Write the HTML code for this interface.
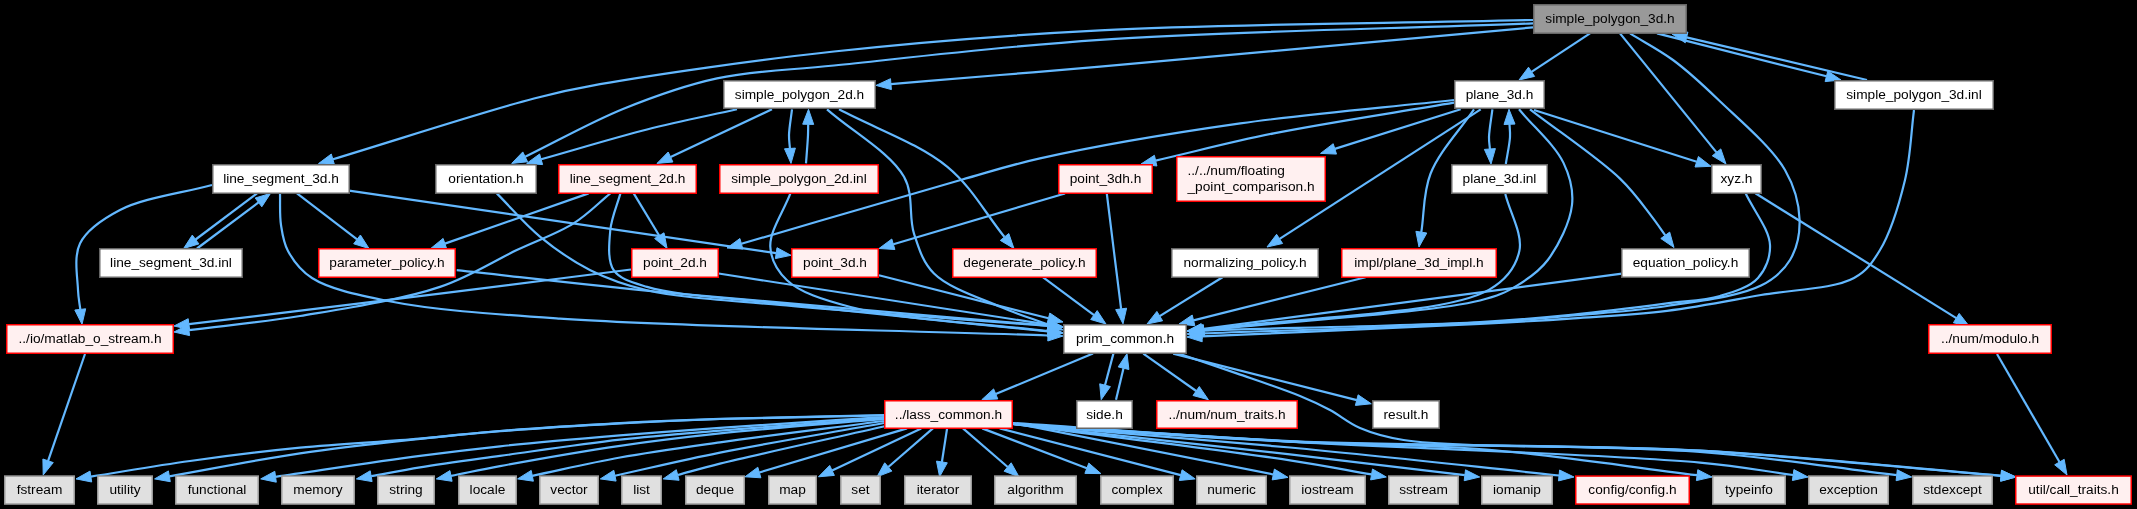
<!DOCTYPE html><html><head><meta charset="utf-8"><style>html,body{margin:0;padding:0;background:#000;width:2137px;height:509px;overflow:hidden}svg{display:block;will-change:transform}text{font-family:"Liberation Sans",sans-serif;font-size:13.7px;fill:#000}</style></head><body>
<svg width="2137" height="509" viewBox="0 0 2137 509">
<g fill="none" stroke="#63b8ff" stroke-width="2.2">
<path d="M1533.0,20.0C1388.7,23.5 1226.8,23.9 1100.0,30.4C1000.5,35.5 919.7,42.1 834.0,51.5C753.4,60.3 654.0,74.6 600.0,84.2C571.1,89.3 561.8,91.3 534.0,98.5C485.0,111.2 399.9,139.0 332.9,159.3"/>
<path d="M1533.0,23.4C1388.7,28.9 1226.7,31.3 1100.0,39.8C1000.5,46.5 904.7,58.2 834.0,65.5C787.1,70.4 753.5,70.5 717.0,78.4C683.6,85.6 654.2,96.4 623.0,109.0C590.3,122.3 557.8,140.9 525.2,156.8"/>
<path d="M1533.0,27.4C1388.7,40.5 1193.7,58.6 1100.0,66.7C1055.0,70.6 1034.1,72.2 1000.0,75.0C964.4,78.0 927.3,81.1 890.9,84.1"/>
<path d="M1590.0,33.4L1531.5,71.8"/>
<path d="M1620.0,33.4L1716.5,152.4"/>
<path d="M1630.0,33.4C1644.3,42.3 1658.9,49.6 1673.0,60.0C1688.5,71.4 1702.4,84.4 1718.6,100.0C1739.1,119.7 1771.8,147.0 1785.0,170.0C1794.7,186.9 1799.2,204.2 1799.6,220.0C1799.9,234.0 1796.6,249.0 1790.0,260.0C1783.6,270.7 1774.6,278.7 1761.0,285.6C1739.5,296.5 1698.4,301.0 1667.0,306.0C1636.0,310.9 1604.8,312.7 1573.6,315.5C1542.4,318.3 1519.5,320.7 1480.0,323.0C1412.0,327.0 1294.7,330.0 1202.0,333.4"/>
<path d="M1657.0,33.4L1826.5,76.3"/>
<path d="M1867.0,80.0L1686.6,37.4"/>
<path d="M737.0,109.3C707.0,116.0 678.1,121.6 647.0,129.5C613.0,138.1 576.4,149.4 541.1,159.3"/>
<path d="M772.0,109.3L670.6,157.0"/>
<path d="M792.0,109.3C791.0,117.9 789.2,127.8 789.0,135.0C788.9,140.2 789.6,144.0 789.9,148.4"/>
<path d="M806.0,163.4C806.7,153.9 807.7,142.2 808.0,135.0C808.2,130.6 808.1,127.9 808.2,124.3"/>
<path d="M827.0,109.3C852.7,131.8 890.5,152.7 904.0,176.8C914.2,194.9 908.4,216.7 914.0,233.6C918.9,248.5 922.7,262.2 934.0,273.5C948.6,288.1 980.1,298.0 1000.8,307.0C1017.9,314.4 1032.9,318.9 1048.9,324.8"/>
<path d="M839.0,109.3C875.1,128.5 918.8,143.3 947.4,166.8C972.0,187.0 985.5,213.6 1004.5,237.0"/>
<path d="M1454.0,100.0C1382.8,107.8 1310.2,113.5 1240.3,123.4C1172.3,133.1 1091.4,146.9 1040.0,158.4C1007.3,165.7 993.7,170.7 960.7,180.0C905.7,195.5 814.5,222.5 741.4,243.8"/>
<path d="M1454.0,102.7C1393.9,112.9 1327.3,122.7 1273.7,133.4C1230.0,142.1 1195.0,151.6 1155.6,160.6"/>
<path d="M1460.7,109.3L1334.8,148.9"/>
<path d="M1480.7,109.3L1279.6,238.9"/>
<path d="M1474.0,109.3C1459.5,130.7 1439.2,151.6 1430.6,173.5C1423.0,192.7 1424.4,212.6 1421.3,232.2"/>
<path d="M1492.4,109.3C1491.3,118.5 1489.2,129.7 1489.0,137.0C1488.9,141.8 1489.6,145.0 1489.9,149.0"/>
<path d="M1505.8,164.0C1507.2,155.0 1509.6,144.3 1510.0,137.0C1510.3,132.0 1509.7,128.5 1509.5,124.3"/>
<path d="M1519.0,109.3C1533.8,127.2 1555.0,145.0 1563.5,162.9C1570.2,176.9 1573.6,190.3 1572.0,205.0C1570.1,222.4 1558.3,246.0 1547.8,260.0C1539.2,271.4 1528.3,278.8 1517.0,285.6C1505.7,292.3 1498.5,295.9 1480.0,300.5C1431.1,312.7 1295.9,320.4 1203.9,330.4"/>
<path d="M1530.0,109.3C1560.0,132.4 1598.4,157.9 1620.0,178.6C1634.2,192.2 1643.4,205.7 1651.6,216.3C1657.3,223.6 1660.7,229.0 1665.3,235.3"/>
<path d="M1534.0,110.0L1696.7,161.8"/>
<path d="M212.0,185.0C181.3,193.3 143.4,197.8 120.0,210.0C102.7,219.0 86.8,229.6 80.0,243.5C73.5,256.6 77.6,277.8 78.0,290.0C78.3,297.9 79.5,302.9 80.3,309.4"/>
<path d="M257.0,193.4L195.6,239.5"/>
<path d="M197.0,248.5L258.5,202.4"/>
<path d="M297.0,193.4L357.1,239.4"/>
<path d="M280.0,193.4C280.3,203.9 279.5,215.1 281.0,225.0C282.4,234.2 283.5,242.7 288.0,251.0C293.2,260.6 300.3,270.5 312.0,278.0C329.3,289.1 357.2,294.8 388.0,301.0C433.4,310.1 487.9,313.7 560.0,318.6C681.1,326.9 885.3,329.9 1048.0,335.5"/>
<path d="M349.0,190.7L776.2,253.1"/>
<path d="M496.8,193.4C511.3,207.9 524.5,224.0 540.2,236.8C555.7,249.5 572.5,261.3 590.3,270.2C608.1,279.1 623.8,284.9 647.0,290.2C681.7,298.1 727.9,300.1 780.0,305.0C853.8,312.0 958.7,318.9 1048.0,325.8"/>
<path d="M633.7,193.4L659.3,235.7"/>
<path d="M620.4,193.4C617.0,205.6 611.5,217.5 610.3,230.1C609.1,243.1 607.3,260.7 613.7,270.2C619.9,279.3 631.7,282.2 647.0,286.9C676.1,295.7 727.9,297.6 780.0,303.6C853.8,312.1 958.7,322.2 1048.1,331.5"/>
<path d="M610.3,193.4C598.1,203.4 587.8,214.5 573.6,223.4C557.3,233.7 537.1,240.4 516.8,250.1C493.1,261.3 470.1,276.7 440.0,286.9C400.9,300.1 344.1,308.6 300.0,316.0C261.0,322.5 225.9,325.4 188.9,330.1"/>
<path d="M588.6,193.4L444.9,243.6"/>
<path d="M790.4,193.4C783.7,211.2 769.5,231.2 770.3,246.8C771.0,259.4 777.2,271.0 787.0,280.2C800.3,292.7 822.8,299.6 850.5,307.0C897.5,319.5 982.2,323.1 1048.1,331.2"/>
<path d="M1065.0,193.5L893.4,244.2"/>
<path d="M1106.8,193.5C1109.5,215.7 1112.5,239.5 1115.0,260.0C1117.2,277.6 1119.1,292.6 1121.1,308.9"/>
<path d="M1505.3,194.0C1510.0,212.9 1522.9,234.3 1519.4,250.7C1516.2,265.8 1507.9,278.8 1489.3,289.6C1444.3,315.7 1299.0,316.5 1203.9,329.9"/>
<path d="M1745.6,193.3C1753.7,210.5 1769.3,229.6 1770.0,245.0C1770.6,257.1 1765.6,269.6 1758.0,278.0C1749.7,287.2 1734.1,291.8 1720.0,296.0C1704.1,300.7 1687.2,300.8 1667.0,303.4C1640.3,306.9 1604.8,311.5 1573.6,314.6C1542.4,317.7 1519.5,319.8 1480.0,322.0C1412.0,325.7 1294.7,327.7 1202.0,330.5"/>
<path d="M1755.4,193.3L1956.3,318.1"/>
<path d="M1914.0,110.0C1911.0,133.3 1910.5,157.0 1905.0,180.0C1899.3,203.6 1890.5,232.7 1880.0,250.0C1872.5,262.4 1867.0,270.9 1854.0,278.0C1833.6,289.2 1792.1,289.5 1761.0,295.0C1729.8,300.5 1698.4,306.9 1667.0,310.8C1635.9,314.7 1604.8,316.1 1573.6,318.3C1542.4,320.5 1519.5,321.9 1480.0,324.0C1412.0,327.6 1294.7,332.2 1202.0,336.3"/>
<path d="M456.7,270.2C524.5,277.5 581.3,284.4 660.0,292.0C768.6,302.5 918.7,314.5 1048.1,325.7"/>
<path d="M718.6,273.5L1048.2,324.7"/>
<path d="M631.0,269.5C567.3,277.5 508.0,285.2 440.0,293.6C362.0,303.3 272.6,314.0 188.9,324.2"/>
<path d="M878.9,275.2L1048.5,318.3"/>
<path d="M1042.5,276.9L1094.0,315.1"/>
<path d="M1222.5,277.2L1159.7,316.1"/>
<path d="M1365.6,277.2L1193.5,320.4"/>
<path d="M1622.0,273.7L1201.9,329.0"/>
<path d="M85.0,354.0L48.1,460.8"/>
<path d="M1997.0,354.0L2059.5,462.0"/>
<path d="M1093.0,353.6L995.7,394.0"/>
<path d="M1113.4,353.6L1105.0,385.2"/>
<path d="M1116.0,399.7L1123.5,368.2"/>
<path d="M1143.3,353.6L1196.2,391.0"/>
<path d="M1173.2,353.6L1356.8,400.1"/>
<path d="M1178.6,353.6C1198.0,360.2 1216.9,366.5 1236.7,373.4C1257.4,380.6 1282.9,389.0 1300.0,396.0C1312.0,400.9 1320.1,404.8 1330.0,410.0C1340.1,415.4 1348.7,423.2 1360.0,428.0C1372.8,433.5 1382.3,436.7 1403.6,440.0C1458.1,448.4 1600.9,444.8 1700.0,450.7C1800.0,456.7 1900.7,467.4 2001.1,475.8"/>
<path d="M884.0,415.0C829.3,416.3 767.9,417.3 720.0,418.9C682.6,420.1 654.8,421.2 620.0,423.1C581.8,425.2 535.9,428.1 500.0,431.0C470.6,433.4 449.4,436.1 420.0,438.6C384.1,441.7 339.1,443.9 300.0,447.7C262.5,451.4 225.7,456.0 190.0,461.0C156.0,465.7 123.9,471.4 90.8,476.6"/>
<path d="M884.0,415.5C829.3,416.7 767.9,417.5 720.0,419.0C682.6,420.2 654.8,421.4 620.0,423.3C581.8,425.4 535.9,428.3 500.0,431.2C470.6,433.6 449.3,435.6 420.0,438.8C384.0,442.7 340.8,447.3 300.0,453.3C257.3,459.6 212.9,468.6 169.4,476.3"/>
<path d="M884.0,417.0C829.3,420.6 767.9,424.5 720.0,427.9C682.6,430.5 654.8,432.5 620.0,435.4C581.8,438.6 535.9,442.5 500.0,446.3C470.6,449.4 450.6,451.9 420.0,455.9C378.9,461.3 323.7,469.8 275.5,476.8"/>
<path d="M884.0,418.0C829.3,422.2 767.9,426.6 720.0,430.6C682.6,433.7 654.8,435.7 620.0,439.6C581.8,443.9 536.0,450.9 500.0,455.9C470.6,460.0 443.4,463.6 420.0,467.4C401.7,470.4 387.4,473.3 371.2,476.2"/>
<path d="M884.0,419.0C829.3,423.8 767.9,428.3 720.0,433.4C682.5,437.4 654.8,440.7 620.0,445.8C581.8,451.4 531.2,460.3 500.0,466.1C480.0,469.8 467.3,472.7 451.0,475.9"/>
<path d="M884.0,421.0C829.3,428.1 767.9,435.5 720.0,442.3C682.5,447.6 652.2,451.7 620.0,457.5C589.7,463.0 561.5,469.7 532.3,475.8"/>
<path d="M884.0,423.0C829.3,432.9 768.5,442.9 720.0,452.6C681.0,460.4 650.0,468.0 615.0,475.7"/>
<path d="M886.0,426.0C830.7,438.5 757.1,454.4 720.0,463.6C701.2,468.3 691.8,471.2 677.7,475.0"/>
<path d="M907.0,428.4L759.4,472.5"/>
<path d="M921.2,428.4L832.1,470.4"/>
<path d="M932.9,428.4L888.3,467.0"/>
<path d="M947.1,428.4L941.9,462.0"/>
<path d="M963.0,428.4L1007.7,467.0"/>
<path d="M982.2,428.4L1086.9,468.3"/>
<path d="M999.7,428.4L1180.7,475.1"/>
<path d="M1013.0,423.0L1273.3,474.5"/>
<path d="M1013.0,424.0C1105.3,436.1 1225.1,450.4 1290.0,460.3C1325.3,465.7 1344.3,469.7 1371.5,474.4"/>
<path d="M1013.0,424.0C1105.3,434.1 1208.3,445.0 1290.0,454.4C1355.0,461.8 1406.5,468.3 1464.8,475.2"/>
<path d="M1013.0,424.0C1105.3,431.8 1198.4,438.9 1290.0,447.5C1380.4,456.0 1469.4,466.1 1559.1,475.5"/>
<path d="M1013.0,424.0C1105.3,429.9 1205.6,437.2 1290.0,441.6C1360.9,445.3 1419.6,444.1 1486.0,449.5C1555.2,455.1 1626.7,466.6 1697.1,475.2"/>
<path d="M1013.0,424.0C1105.3,429.9 1188.6,435.8 1290.0,441.6C1413.3,448.7 1611.9,454.5 1700.0,462.6C1742.2,466.5 1762.1,470.9 1793.1,475.0"/>
<path d="M1013.0,424.0C1105.3,429.9 1188.6,437.1 1290.0,441.6C1413.3,447.1 1588.3,444.0 1700.0,452.0C1777.6,457.6 1831.1,467.5 1896.7,475.2"/>
<path d="M1013.0,423.0C1105.3,429.0 1188.6,436.5 1290.0,441.0C1413.3,446.5 1574.0,444.0 1700.0,450.7C1808.2,456.5 1900.7,467.4 2001.1,475.8"/>
</g>
<g fill="#63b8ff" stroke="#63b8ff" stroke-width="1"><polygon points="318.5,163.6 331.3,154.0 334.4,164.5"/><polygon points="511.7,163.4 522.8,151.9 527.6,161.8"/><polygon points="876.0,85.4 890.5,78.7 891.4,89.6"/><polygon points="1519.0,80.0 1528.5,67.2 1534.6,76.4"/><polygon points="1726.0,164.0 1712.3,155.8 1720.8,148.9"/><polygon points="1187.0,334.0 1201.8,327.9 1202.2,338.9"/><polygon points="1841.0,80.0 1825.1,81.6 1827.8,71.0"/><polygon points="1672.0,34.0 1687.9,32.1 1685.3,42.8"/><polygon points="526.7,163.4 539.6,154.0 542.6,164.6"/><polygon points="657.0,163.4 668.2,152.0 672.9,162.0"/><polygon points="791.0,163.4 784.5,148.8 795.4,148.1"/><polygon points="808.5,109.3 813.7,124.4 802.7,124.2"/><polygon points="1063.0,330.0 1047.0,330.0 1050.8,319.6"/><polygon points="1014.0,248.6 1000.3,240.4 1008.8,233.5"/><polygon points="727.0,248.0 739.9,238.5 742.9,249.1"/><polygon points="1141.0,164.0 1154.4,155.3 1156.9,166.0"/><polygon points="1320.5,153.4 1333.2,143.7 1336.5,154.1"/><polygon points="1267.0,247.0 1276.6,234.3 1282.6,243.5"/><polygon points="1419.0,247.0 1415.9,231.3 1426.8,233.0"/><polygon points="1491.0,164.0 1484.4,149.4 1495.4,148.6"/><polygon points="1509.0,109.3 1515.0,124.1 1504.0,124.5"/><polygon points="1189.0,332.0 1203.3,324.9 1204.5,335.9"/><polygon points="1674.0,247.5 1660.8,238.5 1669.7,232.1"/><polygon points="1711.0,166.3 1695.0,167.0 1698.4,156.5"/><polygon points="82.0,324.3 74.8,310.0 85.7,308.8"/><polygon points="183.6,248.5 192.3,235.1 198.9,243.9"/><polygon points="270.5,193.4 261.8,206.8 255.2,198.0"/><polygon points="369.0,248.5 353.7,243.8 360.4,235.0"/><polygon points="1063.0,336.0 1047.8,341.0 1048.2,330.0"/><polygon points="791.0,255.3 775.4,258.6 777.0,247.7"/><polygon points="1063.0,327.0 1047.6,331.3 1048.5,320.4"/><polygon points="667.1,248.5 654.6,238.5 664.0,232.8"/><polygon points="1063.0,333.0 1047.5,336.9 1048.6,326.0"/><polygon points="174.0,332.0 188.2,324.7 189.6,335.6"/><polygon points="430.7,248.5 443.1,238.4 446.7,248.8"/><polygon points="1063.0,333.0 1047.4,336.6 1048.8,325.7"/><polygon points="879.0,248.5 891.8,239.0 894.9,249.5"/><polygon points="1123.0,323.8 1115.7,309.6 1126.6,308.2"/><polygon points="1189.0,332.0 1203.1,324.5 1204.6,335.3"/><polygon points="1187.0,331.0 1201.8,325.0 1202.2,336.0"/><polygon points="1969.0,326.0 1953.4,322.8 1959.2,313.4"/><polygon points="1187.0,337.0 1201.7,330.8 1202.2,341.8"/><polygon points="1063.0,327.0 1047.6,331.2 1048.5,320.2"/><polygon points="1063.0,327.0 1047.3,330.1 1049.0,319.3"/><polygon points="174.0,326.0 188.2,318.7 189.6,329.6"/><polygon points="1063.0,322.0 1047.1,323.6 1049.8,313.0"/><polygon points="1106.0,324.0 1090.7,319.5 1097.2,310.6"/><polygon points="1147.0,324.0 1156.9,311.4 1162.6,320.8"/><polygon points="1179.0,324.0 1192.2,315.0 1194.9,325.7"/><polygon points="1187.0,331.0 1201.2,323.6 1202.6,334.5"/><polygon points="43.2,475.0 42.9,459.0 53.3,462.6"/><polygon points="2067.0,475.0 2054.7,464.8 2064.2,459.3"/><polygon points="981.8,399.7 993.6,388.9 997.8,399.0"/><polygon points="1101.2,399.7 1099.7,383.8 1110.4,386.6"/><polygon points="1127.0,353.6 1128.9,369.5 1118.2,366.9"/><polygon points="1208.4,399.7 1193.0,395.5 1199.3,386.5"/><polygon points="1371.3,403.8 1355.4,405.4 1358.1,394.8"/><polygon points="2016.0,477.0 2000.6,481.2 2001.5,470.3"/><polygon points="76.0,478.9 90.0,471.1 91.7,482.0"/><polygon points="154.6,478.9 168.4,470.9 170.3,481.7"/><polygon points="260.7,478.9 274.8,471.3 276.3,482.2"/><polygon points="356.4,478.9 370.2,470.8 372.1,481.6"/><polygon points="436.3,478.9 449.9,470.6 452.1,481.3"/><polygon points="517.6,478.9 531.2,470.4 533.4,481.2"/><polygon points="600.3,478.9 613.8,470.3 616.1,481.1"/><polygon points="663.2,478.9 676.3,469.7 679.1,480.3"/><polygon points="745.0,476.8 757.8,467.2 760.9,477.8"/><polygon points="818.5,476.8 829.7,465.4 834.4,475.4"/><polygon points="877.0,476.8 884.7,462.8 891.9,471.1"/><polygon points="939.6,476.8 936.5,461.1 947.3,462.8"/><polygon points="1019.0,476.8 1004.1,471.2 1011.2,462.8"/><polygon points="1100.9,473.6 1084.9,473.4 1088.8,463.1"/><polygon points="1195.2,478.9 1179.3,480.5 1182.1,469.8"/><polygon points="1288.0,477.4 1272.2,479.9 1274.4,469.1"/><polygon points="1386.3,477.0 1370.6,479.9 1372.5,469.0"/><polygon points="1479.7,477.0 1464.2,480.7 1465.5,469.8"/><polygon points="1574.0,477.0 1558.5,480.9 1559.6,470.0"/><polygon points="1712.0,477.0 1696.4,480.6 1697.8,469.7"/><polygon points="1808.0,477.0 1792.4,480.5 1793.9,469.6"/><polygon points="1911.6,477.0 1896.1,480.7 1897.3,469.8"/><polygon points="2016.0,477.0 2000.6,481.2 2001.5,470.3"/></g>
<rect x="1533.75" y="4.75" width="152.5" height="28.5" fill="#999999" stroke="#666666" stroke-width="1.5"/>
<text x="1610.0" y="23.4" text-anchor="middle">simple_polygon_3d.h</text>
<rect x="723.75" y="80.75" width="151.5" height="27.5" fill="#ffffff" stroke="#666666" stroke-width="1.5"/>
<text x="799.5" y="98.9" text-anchor="middle">simple_polygon_2d.h</text>
<rect x="1454.75" y="80.75" width="89.5" height="27.5" fill="#ffffff" stroke="#666666" stroke-width="1.5"/>
<text x="1499.5" y="98.9" text-anchor="middle">plane_3d.h</text>
<rect x="1834.75" y="80.75" width="158.5" height="28.5" fill="#ffffff" stroke="#666666" stroke-width="1.5"/>
<text x="1914.0" y="99.4" text-anchor="middle">simple_polygon_3d.inl</text>
<rect x="212.75" y="164.75" width="136.5" height="28.5" fill="#ffffff" stroke="#666666" stroke-width="1.5"/>
<text x="281.0" y="183.4" text-anchor="middle">line_segment_3d.h</text>
<rect x="435.75" y="164.75" width="100.5" height="28.5" fill="#ffffff" stroke="#666666" stroke-width="1.5"/>
<text x="486.0" y="183.4" text-anchor="middle">orientation.h</text>
<rect x="558.75" y="164.75" width="137.5" height="28.5" fill="#fff0f0" stroke="#ff0000" stroke-width="1.5"/>
<text x="627.5" y="183.4" text-anchor="middle">line_segment_2d.h</text>
<rect x="719.75" y="164.75" width="158.5" height="28.5" fill="#fff0f0" stroke="#ff0000" stroke-width="1.5"/>
<text x="799.0" y="183.4" text-anchor="middle">simple_polygon_2d.inl</text>
<rect x="1058.75" y="164.75" width="93.5" height="28.5" fill="#fff0f0" stroke="#ff0000" stroke-width="1.5"/>
<text x="1105.5" y="183.4" text-anchor="middle">point_3dh.h</text>
<rect x="1176.75" y="156.75" width="148.5" height="44.5" fill="#fff0f0" stroke="#ff0000" stroke-width="1.5"/>
<text x="1187.5" y="174.7">../../num/floating</text>
<text x="1187.5" y="191.3">_point_comparison.h</text>
<rect x="1451.75" y="164.75" width="95.5" height="28.5" fill="#ffffff" stroke="#666666" stroke-width="1.5"/>
<text x="1499.5" y="183.4" text-anchor="middle">plane_3d.inl</text>
<rect x="1711.75" y="164.75" width="49.5" height="28.5" fill="#ffffff" stroke="#666666" stroke-width="1.5"/>
<text x="1736.5" y="183.4" text-anchor="middle">xyz.h</text>
<rect x="99.75" y="248.75" width="142.5" height="28.5" fill="#ffffff" stroke="#666666" stroke-width="1.5"/>
<text x="171.0" y="267.4" text-anchor="middle">line_segment_3d.inl</text>
<rect x="318.75" y="248.75" width="136.5" height="28.5" fill="#fff0f0" stroke="#ff0000" stroke-width="1.5"/>
<text x="387.0" y="267.4" text-anchor="middle">parameter_policy.h</text>
<rect x="631.75" y="248.75" width="86.5" height="28.5" fill="#fff0f0" stroke="#ff0000" stroke-width="1.5"/>
<text x="675.0" y="267.4" text-anchor="middle">point_2d.h</text>
<rect x="791.75" y="248.75" width="86.5" height="28.5" fill="#fff0f0" stroke="#ff0000" stroke-width="1.5"/>
<text x="835.0" y="267.4" text-anchor="middle">point_3d.h</text>
<rect x="952.75" y="248.75" width="143.5" height="28.5" fill="#fff0f0" stroke="#ff0000" stroke-width="1.5"/>
<text x="1024.5" y="267.4" text-anchor="middle">degenerate_policy.h</text>
<rect x="1171.75" y="248.75" width="146.5" height="28.5" fill="#ffffff" stroke="#666666" stroke-width="1.5"/>
<text x="1245.0" y="267.4" text-anchor="middle">normalizing_policy.h</text>
<rect x="1341.75" y="248.75" width="154.5" height="28.5" fill="#fff0f0" stroke="#ff0000" stroke-width="1.5"/>
<text x="1419.0" y="267.4" text-anchor="middle">impl/plane_3d_impl.h</text>
<rect x="1621.75" y="248.75" width="127.5" height="28.5" fill="#ffffff" stroke="#666666" stroke-width="1.5"/>
<text x="1685.5" y="267.4" text-anchor="middle">equation_policy.h</text>
<rect x="6.75" y="324.75" width="166.5" height="28.5" fill="#fff0f0" stroke="#ff0000" stroke-width="1.5"/>
<text x="90.0" y="343.4" text-anchor="middle">../io/matlab_o_stream.h</text>
<rect x="1063.75" y="324.75" width="122.5" height="28.5" fill="#ffffff" stroke="#666666" stroke-width="1.5"/>
<text x="1125.0" y="343.4" text-anchor="middle">prim_common.h</text>
<rect x="1928.75" y="324.75" width="122.5" height="28.5" fill="#fff0f0" stroke="#ff0000" stroke-width="1.5"/>
<text x="1990.0" y="343.4" text-anchor="middle">../num/modulo.h</text>
<rect x="884.75" y="400.75" width="127.5" height="27.5" fill="#fff0f0" stroke="#ff0000" stroke-width="1.5"/>
<text x="948.5" y="418.9" text-anchor="middle">../lass_common.h</text>
<rect x="1076.75" y="400.75" width="55.5" height="27.5" fill="#ffffff" stroke="#666666" stroke-width="1.5"/>
<text x="1104.5" y="418.9" text-anchor="middle">side.h</text>
<rect x="1156.75" y="400.75" width="140.5" height="27.5" fill="#fff0f0" stroke="#ff0000" stroke-width="1.5"/>
<text x="1227.0" y="418.9" text-anchor="middle">../num/num_traits.h</text>
<rect x="1372.75" y="400.75" width="66.5" height="27.5" fill="#ffffff" stroke="#666666" stroke-width="1.5"/>
<text x="1406.0" y="418.9" text-anchor="middle">result.h</text>
<rect x="4.75" y="476.05" width="69.5" height="28.0" fill="#e0e0e0" stroke="#999999" stroke-width="1.5"/>
<text x="39.5" y="494.45" text-anchor="middle">fstream</text>
<rect x="97.75" y="476.05" width="54.5" height="28.0" fill="#e0e0e0" stroke="#999999" stroke-width="1.5"/>
<text x="125.0" y="494.45" text-anchor="middle">utility</text>
<rect x="175.75" y="476.05" width="82.5" height="28.0" fill="#e0e0e0" stroke="#999999" stroke-width="1.5"/>
<text x="217.0" y="494.45" text-anchor="middle">functional</text>
<rect x="281.75" y="476.05" width="72.5" height="28.0" fill="#e0e0e0" stroke="#999999" stroke-width="1.5"/>
<text x="318.0" y="494.45" text-anchor="middle">memory</text>
<rect x="377.75" y="476.05" width="56.5" height="28.0" fill="#e0e0e0" stroke="#999999" stroke-width="1.5"/>
<text x="406.0" y="494.45" text-anchor="middle">string</text>
<rect x="458.75" y="476.05" width="57.5" height="28.0" fill="#e0e0e0" stroke="#999999" stroke-width="1.5"/>
<text x="487.5" y="494.45" text-anchor="middle">locale</text>
<rect x="539.75" y="476.05" width="58.5" height="28.0" fill="#e0e0e0" stroke="#999999" stroke-width="1.5"/>
<text x="569.0" y="494.45" text-anchor="middle">vector</text>
<rect x="621.75" y="476.05" width="39.5" height="28.0" fill="#e0e0e0" stroke="#999999" stroke-width="1.5"/>
<text x="641.5" y="494.45" text-anchor="middle">list</text>
<rect x="685.75" y="476.05" width="58.5" height="28.0" fill="#e0e0e0" stroke="#999999" stroke-width="1.5"/>
<text x="715.0" y="494.45" text-anchor="middle">deque</text>
<rect x="768.75" y="476.05" width="47.5" height="28.0" fill="#e0e0e0" stroke="#999999" stroke-width="1.5"/>
<text x="792.5" y="494.45" text-anchor="middle">map</text>
<rect x="840.75" y="476.05" width="39.5" height="28.0" fill="#e0e0e0" stroke="#999999" stroke-width="1.5"/>
<text x="860.5" y="494.45" text-anchor="middle">set</text>
<rect x="904.75" y="476.05" width="66.5" height="28.0" fill="#e0e0e0" stroke="#999999" stroke-width="1.5"/>
<text x="938.0" y="494.45" text-anchor="middle">iterator</text>
<rect x="994.75" y="476.05" width="81.5" height="28.0" fill="#e0e0e0" stroke="#999999" stroke-width="1.5"/>
<text x="1035.5" y="494.45" text-anchor="middle">algorithm</text>
<rect x="1100.75" y="476.05" width="72.5" height="28.0" fill="#e0e0e0" stroke="#999999" stroke-width="1.5"/>
<text x="1137.0" y="494.45" text-anchor="middle">complex</text>
<rect x="1196.75" y="476.05" width="69.5" height="28.0" fill="#e0e0e0" stroke="#999999" stroke-width="1.5"/>
<text x="1231.5" y="494.45" text-anchor="middle">numeric</text>
<rect x="1289.75" y="476.05" width="75.5" height="28.0" fill="#e0e0e0" stroke="#999999" stroke-width="1.5"/>
<text x="1327.5" y="494.45" text-anchor="middle">iostream</text>
<rect x="1388.75" y="476.05" width="69.5" height="28.0" fill="#e0e0e0" stroke="#999999" stroke-width="1.5"/>
<text x="1423.5" y="494.45" text-anchor="middle">sstream</text>
<rect x="1481.75" y="476.05" width="70.5" height="28.0" fill="#e0e0e0" stroke="#999999" stroke-width="1.5"/>
<text x="1517.0" y="494.45" text-anchor="middle">iomanip</text>
<rect x="1575.75" y="476.05" width="113.5" height="28.0" fill="#fff0f0" stroke="#ff0000" stroke-width="1.5"/>
<text x="1632.5" y="494.45" text-anchor="middle">config/config.h</text>
<rect x="1712.75" y="476.05" width="72.5" height="28.0" fill="#e0e0e0" stroke="#999999" stroke-width="1.5"/>
<text x="1749.0" y="494.45" text-anchor="middle">typeinfo</text>
<rect x="1808.75" y="476.05" width="79.5" height="28.0" fill="#e0e0e0" stroke="#999999" stroke-width="1.5"/>
<text x="1848.5" y="494.45" text-anchor="middle">exception</text>
<rect x="1912.75" y="476.05" width="79.5" height="28.0" fill="#e0e0e0" stroke="#999999" stroke-width="1.5"/>
<text x="1952.5" y="494.45" text-anchor="middle">stdexcept</text>
<rect x="2015.75" y="476.05" width="115.5" height="28.0" fill="#fff0f0" stroke="#ff0000" stroke-width="1.5"/>
<text x="2073.5" y="494.45" text-anchor="middle">util/call_traits.h</text>
</svg></body></html>
